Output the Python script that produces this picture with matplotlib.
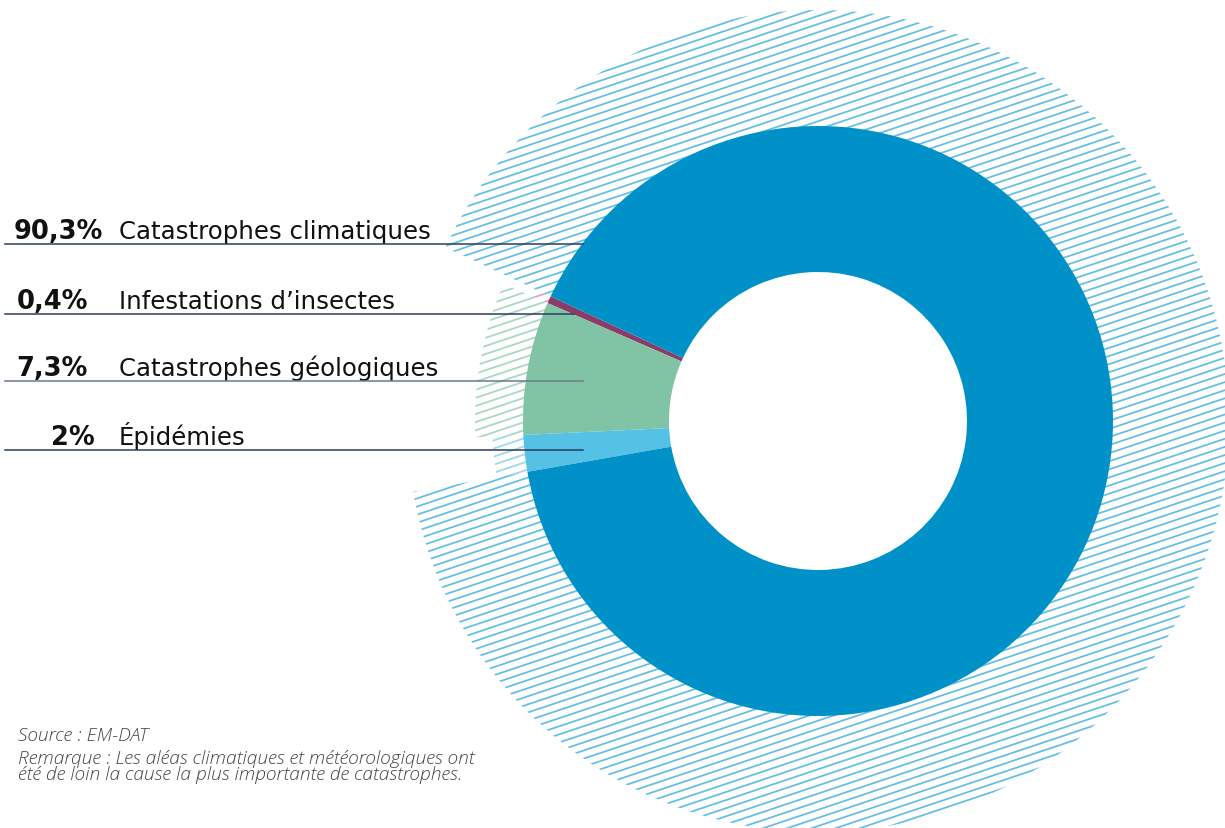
import numpy as np
import matplotlib
matplotlib.use("Agg")
import matplotlib.pyplot as plt
from matplotlib.patches import Wedge

# The data (pie order, counter-clockwise from start angle)
categories = ["Infestations d\u2019insectes", "Catastrophes g\u00e9ologiques",
              "\u00c9pid\u00e9mies", "Catastrophes climatiques"]
shares = [0.4, 7.3, 2.0, 90.3]
pct_labels = ["0,4%", "7,3%", "2%", "90,3%"]

colors = ["#8b3b68", "#80c4a5", "#55c1e5", "#0091c9"]
hatch_colors = ["#d9a9c4", "#a9d9c2", "#9fd8ee", "#66bfe5"]
hatch_radius = [312, 343, 326, 411]

# Figure in pixel coordinates (y up)
W, H = 1225, 829
fig = plt.figure(figsize=(W / 100, H / 100), dpi=100)
ax = fig.add_axes([0, 0, 1, 1])

cx, cy = 818, H - 422
R, r_in = 295, 149

wedges, _ = ax.pie(shares, colors=colors, startangle=155, counterclock=True,
                   radius=R, center=(cx, cy), frame=True,
                   wedgeprops=dict(width=R - r_in, linewidth=0))
ax.set_xlim(0, W)
ax.set_ylim(0, H)
ax.set_aspect("equal")
ax.axis("off")
for w in wedges:
    w.set_zorder(3)

# Hatched outer ring, one piece per slice
ang = np.deg2rad(18.5)
d = np.array([np.cos(ang), np.sin(ang)])
n = np.array([-np.sin(ang), np.cos(ang)])
spacing = 8.1 * np.cos(ang)
for w, hr, hc in zip(wedges, hatch_radius, hatch_colors):
    clip = Wedge((cx, cy), hr, w.theta1, w.theta2, width=hr - R + 2,
                 facecolor="none", edgecolor="none")
    ax.add_patch(clip)
    for k in np.arange(-70, 71):
        p0 = np.array([cx, cy]) + n * k * spacing
        a = p0 - d * 600
        b = p0 + d * 600
        ln, = ax.plot([a[0], b[0]], [a[1], b[1]], color=hc, lw=1.3,
                      solid_capstyle="butt", zorder=1)
        ln.set_clip_path(clip)

# Label lines and texts
label_y = [315, 382, 451, 245]
line_end = [574, 583, 583, 583]
pct_x = [88, 88, 95, 103]
line_col = ["#2c3d5c", "#6b7b8c", "#2c3d5c", "#2c3d5c"]
for ly, le, px, pl, cat, lc in zip(label_y, line_end, pct_x, pct_labels,
                                   categories, line_col):
    yy = H - ly
    ax.plot([5, le], [yy, yy], color=lc, lw=1.1, zorder=5)
    ax.text(px, yy + 6, pl, ha="right", va="baseline", fontsize=18.5,
            fontweight="bold", family="DejaVu Sans", color="#111111")
    ax.text(119, yy + 6, cat, ha="left", va="baseline", fontsize=17.6,
            family="DejaVu Sans", color="#111111")

# Source and note
note_style = dict(ha="left", va="baseline", fontsize=13.8, style="italic",
                  family="Open Sans", fontweight="light", fontstretch="normal",
                  color="#444444")
ax.text(18, H - 741, "Source : EM-DAT", **note_style)
ax.text(18, H - 764, "Remarque : Les al\u00e9as climatiques et m\u00e9t\u00e9orologiques ont",
        **note_style)
ax.text(18, H - 780, "\u00e9t\u00e9 de loin la cause la plus importante de catastrophes.",
        **note_style)

fig.savefig("out.png", dpi=100)
